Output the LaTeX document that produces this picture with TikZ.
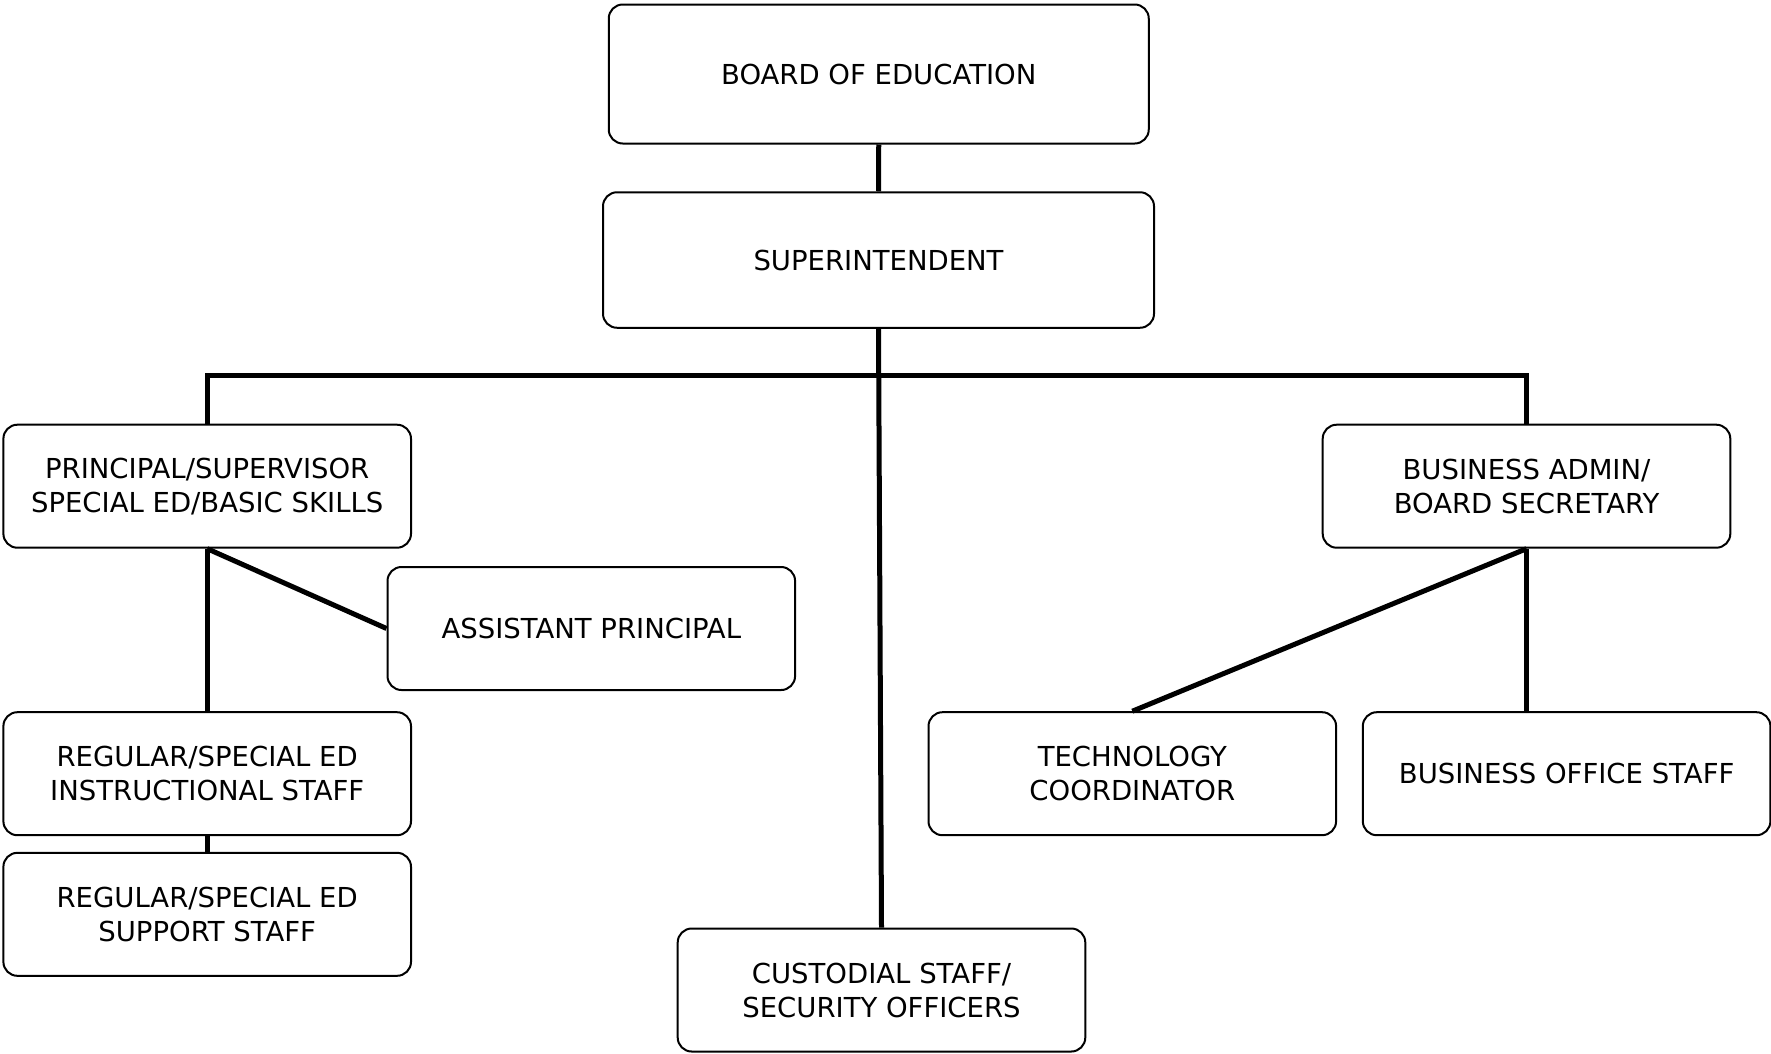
\documentclass[tikz,border=0pt]{standalone}
\usepackage{fontspec}
\setmainfont{DejaVu Sans}
\begin{document}
\begin{tikzpicture}[x=1pt,y=1pt,
  box/.style={draw, line width=2pt, rounded corners=14pt, align=center,
    inner sep=0pt, minimum width=407.6pt, minimum height=123pt,
    font=\fontsize{27.5}{34}\selectfont},
  conn/.style={line width=5pt}]
\useasboundingbox (0,0) rectangle (1771,-1053);
\node[box, minimum width=540pt, minimum height=139pt] (board) at (878.75,-74) {BOARD OF EDUCATION};
\node[box, minimum width=551pt, minimum height=135.5pt] (super) at (878.5,-260) {SUPERINTENDENT};
\node[box] (prin) at (207.2,-486.2) {PRINCIPAL/SUPERVISOR\\SPECIAL ED/BASIC SKILLS};
\node[box] (ba) at (1526.5,-486.2) {BUSINESS ADMIN/\\BOARD SECRETARY};
\node[box] (asst) at (591.3,-628.5) {ASSISTANT PRINCIPAL};
\node[box] (instr) at (207.2,-773.7) {REGULAR/SPECIAL ED\\INSTRUCTIONAL STAFF};
\node[box] (supp) at (207.2,-914.3) {REGULAR/SPECIAL ED\\SUPPORT STAFF};
\node[box] (cust) at (881.5,-990) {CUSTODIAL STAFF/\\SECURITY OFFICERS};
\node[box] (tech) at (1132.3,-773.7) {TECHNOLOGY\\COORDINATOR};
\node[box] (bo) at (1566.6,-773.7) {BUSINESS OFFICE STAFF};
\coordinate (bar) at (878.5,-375);
\draw[conn] (board.south) -- (super.north);
\draw[conn] (super.south) -- (cust.north);
\draw[conn] (prin.north) |- (bar) -| (ba.north);
\draw[conn] (prin.south) -- (asst.west);
\draw[conn] (prin.south) -- (instr.north);
\draw[conn] (instr.south) -- (supp.north);
\draw[conn] (ba.south) -- (tech.north);
\draw[conn] (ba.south) -- (ba.south |- bo.north);
\end{tikzpicture}
\end{document}
